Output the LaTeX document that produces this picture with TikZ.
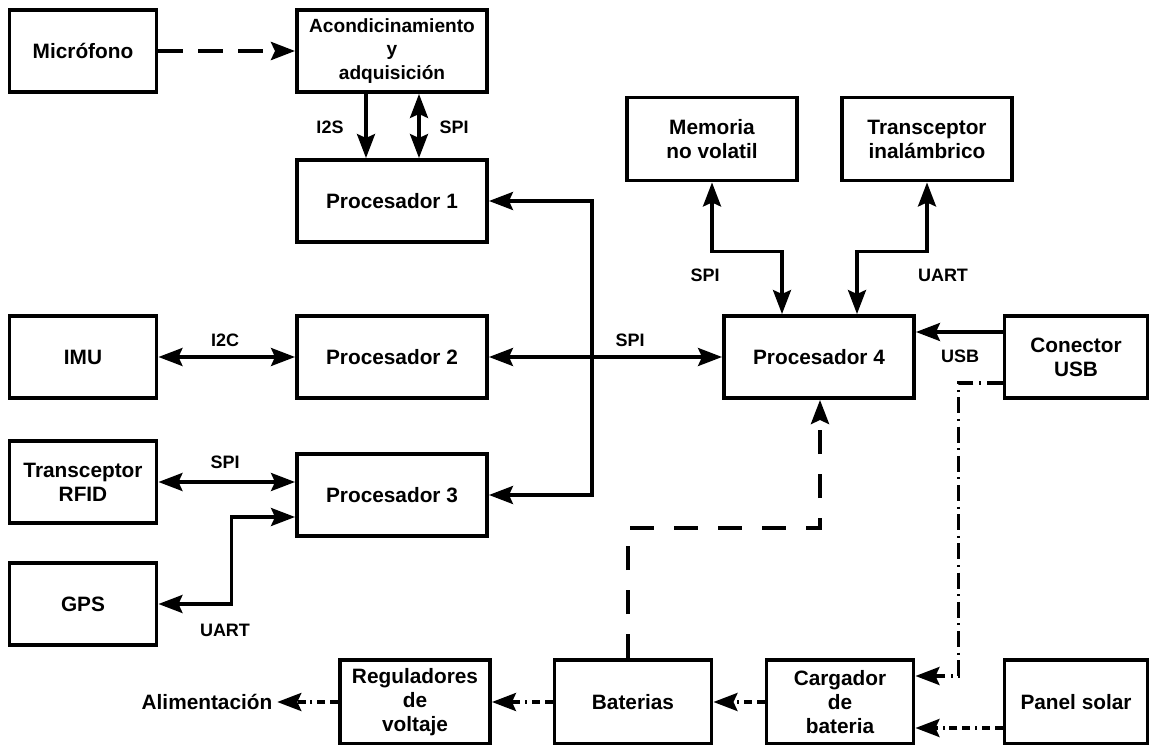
\documentclass[tikz,border=0pt]{standalone}
\usepackage{fontspec}
\setsansfont{Liberation Sans}
\usetikzlibrary{arrows.meta,positioning}
\tikzset{%
  % Specifications for style of arrows:
   signal/.style={
           ->,
           line width=2.4pt},
   bus/.style={
           signal,
           <->},
   audio/.style={
           signal,
           line width=3pt,
           dash pattern=on 0.62cm off 0.38cm},
   supply/.style={
           signal,
           line width=2.8pt,
           dash pattern=on 0.6cm off 0.5cm},
   power/.style={
           signal,
           dash pattern=on 0.2cm off 0.12cm on 0.2cm off 0.12cm on 0.05cm off 0.12cm},
   charge/.style={
           signal,
           dash pattern=on 0.4cm off 0.14cm on 0.05cm off 0.14cm},
  % Specifications for style of nodes:
   base/.style = {rectangle, draw=black, line width=2.8pt,
                  minimum width=4.75cm, minimum height=2.05cm,
                  text centered, font=\sffamily\bfseries\fontsize{14.8}{17}\selectfont},
   side/.style = {base, minimum width=3.675cm},
   periph/.style = {base, minimum width=4.25cm, minimum height=2.075cm},
   source/.style = {base, minimum width=3.575cm},
   power block/.style = {minimum height=2.1cm},
   buslabel/.style = {font=\sffamily\bfseries\fontsize{12.8}{15}\selectfont},
}

\begin{document}
\begin{tikzpicture}[node distance=3.9cm, align=center,
    >={Stealth[length=0.6cm, width=0.45cm, inset=0.1cm]}]

  \useasboundingbox (0,0) rectangle (28.775,-18.625);

  % Specification of nodes (position, etc.)
  \node (P2_block)	[base] at (9.8,-8.925)	{Procesador 2};
  \node (P1_block)	[base, above of= P2_block]	{Procesador 1};
  \node (AC_block)	[base, above of= P1_block, node distance=3.75cm,
                   font=\sffamily\bfseries\fontsize{13.6}{17}\selectfont]	{Acondicinamiento\\y\\adquisición};
  \node (P3_block)	[base, below of= P2_block, node distance=3.45cm]	{Procesador 3};

  \node (MIC_block)	[side, left of= AC_block, node distance=7.725cm]	{Micrófono};
  \node (IMU_block)	[side, left of= P2_block, node distance=7.725cm]	{IMU};
  \node (RFID_block)	[side, left of= P3_block, node distance=7.725cm, yshift=0.325cm]	{Transceptor\\RFID};
  \node (GPS_block)	[side, below of= IMU_block, node distance=6.175cm]	{GPS};

  \node (P4_block)	[base, right of= P2_block, node distance=10.675cm]	{Procesador 4};
  \node (MEM_block)	[periph, above of= P4_block, node distance=5.45cm, xshift=-2.675cm]	{Memoria\\no volatil};
  \node (TRX_block)	[periph, above of= P4_block, node distance=5.45cm, xshift=2.7cm]	{Transceptor\\inalámbrico};
  \node (USB_block)	[source, right of= P4_block, node distance=6.425cm]	{Conector\\USB};

  \node (PAN_block)	[source, power block, below of= USB_block, node distance=8.625cm]	{Panel solar};
  \node (CAR_block)	[side, power block, left of= PAN_block, node distance=5.9cm]	{Cargador\\de\\bateria};
  \node (BAT_block)	[base, power block, minimum width=3.925cm, left of= CAR_block, node distance=5.175cm]	{Baterias};
  \node (REG_block)	[base, power block, minimum width=3.75cm, left of= BAT_block, node distance=5.45cm]	{Reguladores\\de\\voltaje};
  \node (ALIM_block)	[left of= REG_block, node distance=5.2cm,
                     font=\sffamily\bfseries\fontsize{14.8}{17}\selectfont]	{Alimentación};

  % Bus labels
  \node (I2S_label)	[buslabel] at (8.25,-3.175)	{I2S};
  \node (SPIa_label)	[buslabel] at (11.35,-3.175)	{SPI};
  \node (I2C_label)	[buslabel] at (5.625,-8.5)	{I2C};
  \node (SPIp_label)	[buslabel] at (15.75,-8.5)	{SPI};
  \node (SPIr_label)	[buslabel] at (5.625,-11.55)	{SPI};
  \node (UARTg_label)	[buslabel] at (5.625,-15.75)	{UART};
  \node (SPIm_label)	[buslabel] at (17.625,-6.875)	{SPI};
  \node (UARTt_label)	[buslabel] at (23.575,-6.875)	{UART};
  \node (USB_label)	[buslabel] at (24.0,-8.9)	{USB};

  % Connections
  \draw[audio] (MIC_block) -- (AC_block);
  \draw[signal] ([xshift=-0.65cm]AC_block.south) -- ([xshift=-0.65cm]P1_block.north);
  \draw[bus] ([xshift=0.675cm]AC_block.south) -- ([xshift=0.675cm]P1_block.north);
  \draw[bus] (P1_block.east) -- ++(2.575,0) |- (P3_block.east);
  \draw[bus] (IMU_block) -- (P2_block);
  \draw[bus] (P2_block) -- (P4_block);
  \draw[bus] (RFID_block.east) -- (RFID_block.east -| P3_block.west);
  \draw[bus] (GPS_block.east) -- ++(1.825,0) |- ([yshift=-0.55cm]P3_block.west);
  \draw[bus] (MEM_block.south) -- ++(0,-1.725) -| ([xshift=-0.925cm]P4_block.north);
  \draw[bus] (TRX_block.south) -- ++(0,-1.725) -| ([xshift=0.95cm]P4_block.north);
  \draw[signal] ([yshift=0.625cm]USB_block.west) -- ([yshift=0.625cm]P4_block.east);

  % Power path
  \draw[charge] ([yshift=-0.65cm]USB_block.west) -- ++(-1.1,0) |- ([yshift=0.65cm]CAR_block.east);
  \draw[power] ([yshift=-0.65cm]PAN_block.west) -- ([yshift=-0.65cm]CAR_block.east);
  \draw[power] (CAR_block) -- (BAT_block);
  \draw[power] (BAT_block) -- (REG_block);
  \draw[power] (REG_block) -- (ALIM_block);
  \draw[supply] ([xshift=-0.125cm]BAT_block.north) -- ++(0,3.25) -| ([xshift=0.025cm]P4_block.south);

\end{tikzpicture}
\end{document}
